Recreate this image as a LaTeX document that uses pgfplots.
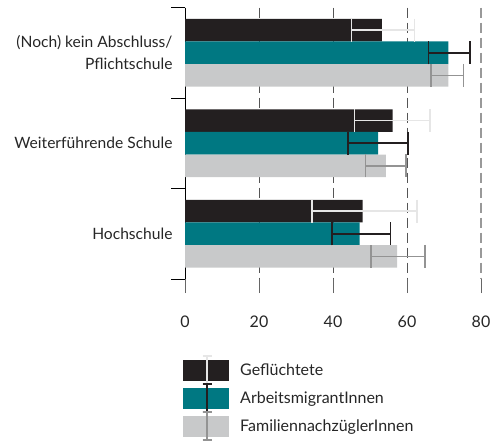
\documentclass[border=0pt]{standalone}
\usepackage{fontspec}
\setmainfont{Lato}
\usepackage{pgfplots}
\pgfplotsset{compat=1.18}
\definecolor{cblack}{HTML}{231F20}
\definecolor{cteal}{HTML}{007882}
\definecolor{cgray}{HTML}{C8C9CA}
\definecolor{elight}{HTML}{E6E6E6}
\definecolor{edark}{HTML}{939393}
\definecolor{gridc}{HTML}{555555}
\pgfplotsset{
  ebar/.style={draw=none, mark=none, forget plot,
    error bars/.cd, x dir=both, x explicit,
    error bar style={color=#1, line width=1.6bp},
    error mark options={color=#1, line width=1.6bp, mark size=11.5bp, rotate=90}},
}
\begin{document}
\begin{tikzpicture}
\path[use as bounding box] (0,0) rectangle (491bp,441bp);
\begin{axis}[
  at={(185bp,162bp)}, anchor=south west,
  scale only axis, width=296bp, height=271.5bp,
  xmin=0, xmax=80, ymin=-0.5, ymax=2.5,
  y dir=reverse,
  axis lines*=left,
  axis line style={-},
  x axis line style={draw=none},
  y axis line style={black, line width=0.9bp},
  tick align=outside,
  major tick length=14bp,
  xtick={0,20,40,60},
  extra x ticks={80},
  extra x tick style={major grid style={color=black!40, line width=1.1bp, dash pattern=on 10bp off 5bp}},
  xmajorgrids,
  major grid style={color=gridc, line width=0.9bp, dash pattern=on 10bp off 5bp},
  x tick style={color=black!60, line width=0.9bp},
  ytick={-0.5,0.5,1.5,2.5},
  yticklabels={},
  y tick style={black, line width=0.9bp},
  extra y ticks={0,1,2},
  extra y tick labels={{(Noch) kein Abschluss/\\Pflichtschule},{Weiterführende Schule},{Hochschule}},
  extra y tick style={tick style={draw=none}, ymajorgrids=false},
  yticklabel style={align=right, font=\fontsize{15.6bp}{22bp}\selectfont, text=black!85, xshift=5bp},
  xticklabel style={font=\fontsize{16bp}{19bp}\selectfont, text=black!85, yshift=-19bp},
  /pgf/number format/assume math mode=true,
  bar width=0.25,
  legend style={at={(0,0)}, anchor=north west, xshift=-2bp, yshift=-76bp,
     draw=none, fill=none, inner sep=0pt, row sep=-1.5bp, column sep=9bp,
     font=\fontsize{16bp}{19bp}\selectfont, text=black!85,
     nodes={inner sep=2bp}},
  legend cell align=left,
  clip=false,
]
% bars
\addplot[xbar, bar shift=-0.25, fill=cblack, draw=none,
  legend image code/.code={\fill[cblack] (0bp,-10.5bp) rectangle (46bp,10.5bp);
     \draw[elight,line width=1.6bp] (24bp,-14bp)--(24bp,14bp) (19.5bp,-14bp)--(28.5bp,-14bp) (19.5bp,14bp)--(28.5bp,14bp);}]
coordinates {(53.2,0) (56.1,1) (48.0,2)};
\addlegendentry{Geflüchtete}
\addplot[xbar, bar shift=0, fill=cteal, draw=none,
  legend image code/.code={\fill[cteal] (0bp,-10.5bp) rectangle (46bp,10.5bp);
     \draw[cblack,line width=1.6bp] (24bp,-14bp)--(24bp,14bp) (19.5bp,-14bp)--(28.5bp,-14bp) (19.5bp,14bp)--(28.5bp,14bp);}]
coordinates {(71.2,0) (52.2,1) (47.2,2)};
\addlegendentry{ArbeitsmigrantInnen}
\addplot[xbar, bar shift=0.25, fill=cgray, draw=none,
  legend image code/.code={\fill[cgray] (0bp,-10.5bp) rectangle (46bp,10.5bp);
     \draw[edark,line width=1.6bp] (24bp,-14bp)--(24bp,14bp) (19.5bp,-14bp)--(28.5bp,-14bp) (19.5bp,14bp)--(28.5bp,14bp);}]
coordinates {(71.2,0) (54.3,1) (57.3,2)};
\addlegendentry{FamiliennachzüglerInnen}
% error bars (at the bar centres)
\addplot[ebar=elight] coordinates {
  (53.2,-0.25) += (8.8,0) -= (8.2,0)
  (56.1,0.75) += (10.1,0) -= (10.3,0)
  (48.0,1.75) += (14.7,0) -= (13.7,0)
};
\addplot[ebar=cblack] coordinates {
  (71.2,0) += (5.9,0) -= (5.4,0)
  (52.2,1) += (8.1,0) -= (8.1,0)
  (47.2,2) += (8.3,0) -= (7.4,0)
};
\addplot[ebar=edark] coordinates {
  (71.2,0.25) += (4.1,0) -= (4.7,0)
  (54.3,1.25) += (5.4,0) -= (5.5,0)
  (57.3,2.25) += (7.6,0) -= (7.1,0)
};
\end{axis}
\end{tikzpicture}
\end{document}
